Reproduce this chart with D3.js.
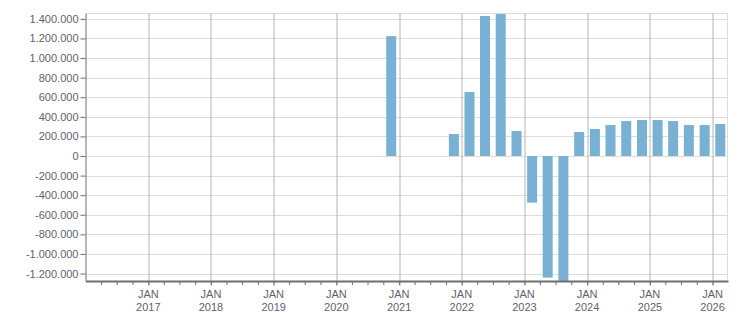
<!DOCTYPE html>
<html>
<head>
<meta charset="utf-8">
<script src="https://cdn.jsdelivr.net/npm/d3@7"></script>
<style>
  body { margin: 0; background: #fff; }
  svg text { font-family: "Liberation Sans", Arial, sans-serif; font-size: 11px; fill: #5f5f6f; }
</style>
</head>
<body>
<svg id="chart"></svg>
<script>
// quarterly values, quarter given as "YYYY-Qn"
const quarters = [
  '2020-Q4', '2021-Q4',
  '2022-Q1', '2022-Q2', '2022-Q3', '2022-Q4',
  '2023-Q1', '2023-Q2', '2023-Q3', '2023-Q4',
  '2024-Q1', '2024-Q2', '2024-Q3', '2024-Q4',
  '2025-Q1', '2025-Q2', '2025-Q3', '2025-Q4',
  '2026-Q1'
];
const values = [
  1224000, 224000,
  653000, 1429000, 1449000, 255000,
  -476000, -1241000, -1300000, 245000,
  276000, 316000, 357000, 367000,
  367000, 357000, 316000, 316000,
  327000
];
const yTicks = [-1200000, -1000000, -800000, -600000, -400000, -200000, 0,
  200000, 400000, 600000, 800000, 1000000, 1200000, 1400000];
const yearTicks = [2017, 2018, 2019, 2020, 2021, 2022, 2023, 2024, 2025, 2026];

const W = 751, H = 313;
const margin = { top: 13, right: 23, bottom: 32, left: 85.5 };
const width = W - margin.left - margin.right;
const height = H - margin.top - margin.bottom;

const parseQ = s => new Date(+s.slice(0, 4), (+s.slice(6) - 1) * 3, 1);
const data = quarters.map((q, i) => ({ start: parseQ(q), value: values[i] }));

const locale = d3.formatLocale({ decimal: ',', thousands: '.', grouping: [3], currency: ['', ''], minus: '-' });
const fmt = locale.format(',');

const svg = d3.select('#chart').attr('width', W).attr('height', H);
const g = svg.append('g').attr('transform', `translate(${margin.left},${margin.top})`);

const x = d3.scaleTime()
  .domain([new Date(2016, 0, 1), new Date(2026, 3, 1)])
  .range([0, width]);
const y = d3.scaleLinear()
  .domain([-1276000, 1460000])
  .range([height, 0]);

// horizontal grid
g.append('g')
  .selectAll('line')
  .data(yTicks)
  .join('line')
  .attr('x1', 0).attr('x2', width)
  .attr('y1', d => Math.round(y(d)) + 0.5).attr('y2', d => Math.round(y(d)) + 0.5)
  .attr('stroke', '#dddddd');

// top / right border
g.append('path')
  .attr('d', `M0,0.5H${width - 0.5}V${height}`)
  .attr('fill', 'none').attr('stroke', '#dddddd');

// vertical year grid
g.append('g')
  .selectAll('line')
  .data(yearTicks)
  .join('line')
  .attr('x1', d => Math.round(x(new Date(d, 0, 1))) + 0.5)
  .attr('x2', d => Math.round(x(new Date(d, 0, 1))) + 0.5)
  .attr('y1', 0).attr('y2', height + 5)
  .attr('stroke', '#b4b4b4');

// bars
g.append('clipPath').attr('id', 'clip')
  .append('rect').attr('width', width).attr('height', height);

g.append('g')
  .attr('clip-path', 'url(#clip)')
  .selectAll('rect')
  .data(data)
  .join('rect')
  .attr('x', d => {
    const x0 = x(d.start), x1 = x(d3.timeMonth.offset(d.start, 3));
    return (x0 + x1) / 2 - 5;
  })
  .attr('width', 10)
  .attr('y', d => y(Math.max(0, d.value)))
  .attr('height', d => Math.abs(y(d.value) - y(0)))
  .attr('fill', '#78b1d3');

// y axis
const yAxis = g.append('g')
  .call(d3.axisLeft(y).tickValues(yTicks).tickFormat(fmt).tickSize(5).tickSizeOuter(0).tickPadding(2));
yAxis.select('.domain').attr('stroke', '#6e6e6e');
yAxis.selectAll('.tick line').attr('stroke', '#6e6e6e');
yAxis.selectAll('text').attr('fill', null);

// x axis: quarter minor ticks, year labels
const quarterTicks = d3.timeMonth.every(3).range(new Date(2016, 3, 1), new Date(2026, 3, 1));
const xAxis = g.append('g')
  .attr('transform', `translate(0,${height})`)
  .call(d3.axisBottom(x).tickValues(quarterTicks).tickSize(4).tickSizeOuter(0).tickFormat(''));
xAxis.select('.domain').attr('stroke', '#6e6e6e').attr('stroke-width', 2);
xAxis.selectAll('.tick line').attr('stroke', '#6e6e6e');

const labels = g.append('g')
  .selectAll('text')
  .data(yearTicks)
  .join('text')
  .attr('text-anchor', 'middle')
  .attr('transform', d => `translate(${x(new Date(d, 0, 1))},${height})`);
labels.append('tspan').attr('x', 0).attr('y', 16.5).text('JAN');
labels.append('tspan').attr('x', 0).attr('y', 29.5).text(d => d);
</script>
</body>
</html>
